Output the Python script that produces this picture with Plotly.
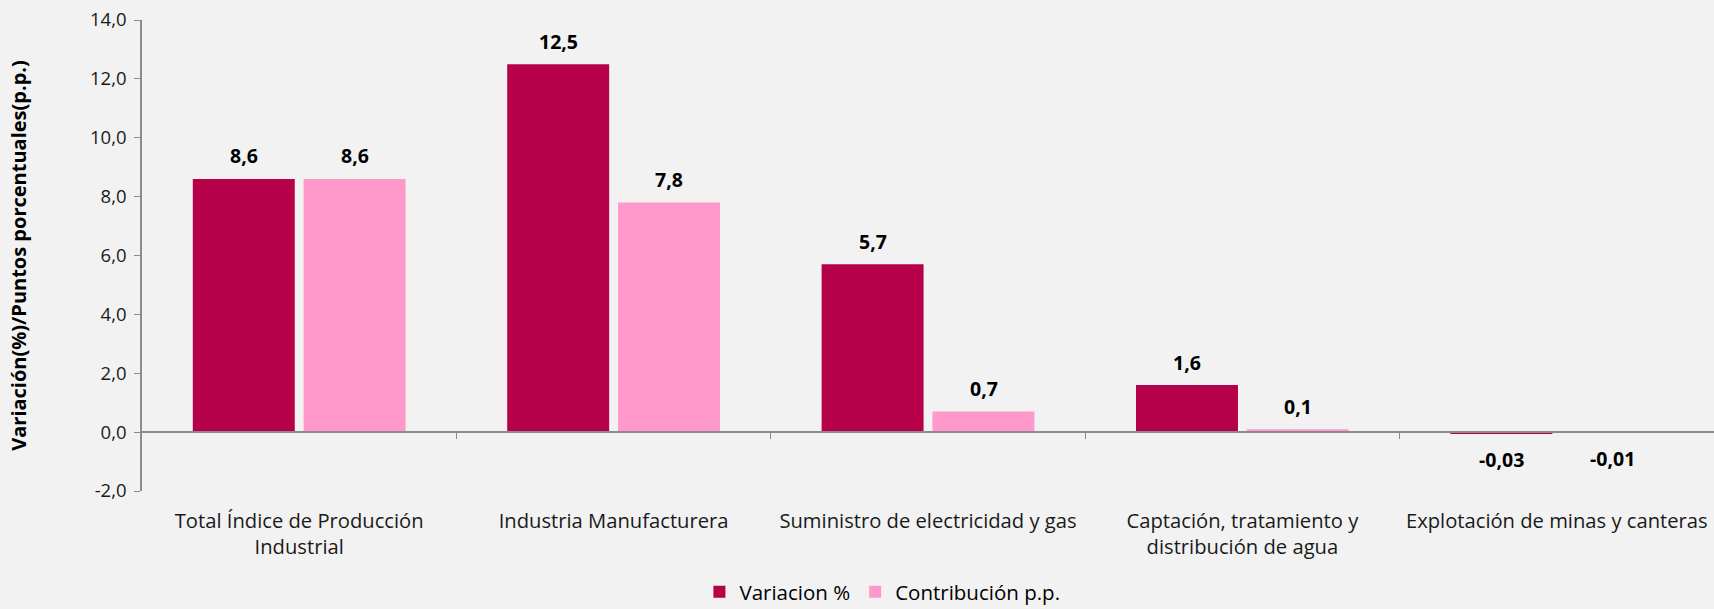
import plotly.graph_objects as go

# data
categories = [
    "Total Índice de Producción<br>Industrial",
    "Industria Manufacturera",
    "Suministro de electricidad y gas",
    "Captación, tratamiento y<br>distribución de agua",
    "Explotación de minas y canteras",
]
variacion = [8.6, 12.5, 5.7, 1.6, -0.03]
contribucion = [8.6, 7.8, 0.7, 0.1, -0.01]
y_ticks = [-2, 0, 2, 4, 6, 8, 10, 12, 14]

series_names = ["Variacion %", "Contribución p.p."]
colors = ["#B6004A", "#FF99CC"]
FONT = "Open Sans"


def fmt(v):
    s = f"{v:.1f}" if abs(v) >= 0.1 else f"{v:.2f}"
    return s.replace(".", ",")


fig = go.Figure()
for name, vals, col in zip(series_names, [variacion, contribucion], colors):
    fig.add_trace(go.Bar(x=categories, y=vals, name=name,
                         marker=dict(color=col, line=dict(width=0))))
#empty trace so the zero-level axis (x2) gets drawn
fig.add_trace(go.Scatter(x=[None], y=[None], xaxis="x2", showlegend=False,
                         hoverinfo="skip"))

#data labels above / below bars
for k, vals in enumerate([variacion, contribucion]):
    shift = -55.5 if k == 0 else 55.5
    for c, v in zip(categories, vals):
        fig.add_annotation(x=c, y=v, text="<b>" + fmt(v) + "</b>", showarrow=False,
                           xshift=shift, yshift=23 if v >= 0 else -26.5,
                           yanchor="middle",
                           font=dict(family=FONT, size=19.5, color="#000000"))

fig.update_layout(
    width=1714, height=609,
    paper_bgcolor="#F2F2F2", plot_bgcolor="#F2F2F2",
    margin=dict(l=142, r=0, t=20, b=118),
    barmode="group", bargap=0.295, bargroupgap=0.08,
    font=dict(family=FONT, size=19, color="#000000"),
    showlegend=True,
    legend=dict(orientation="h", x=0.471, xanchor="center",
                yref="container", y=0.028, yanchor="middle",
                font=dict(family=FONT, size=20.5), traceorder="normal"),
    xaxis=dict(type="category", showline=False, ticks="", showgrid=False, automargin=False,
               ticklabelstandoff=16,
               tickfont=dict(family=FONT, size=20.2, color="#1A1A1A"), range=[-0.5, 4.5]),
    xaxis2=dict(overlaying="x", anchor="free", position=0.125, type="linear",
                range=[-0.5, 4.5], tickvals=[0.5, 1.5, 2.5, 3.5], ticks="outside",
                ticklen=6, tickcolor="#8C8C8C", showticklabels=False, showline=True,
                linecolor="#8C8C8C", linewidth=1.5, showgrid=False, zeroline=False),
    yaxis=dict(range=[-2, 14], tickvals=y_ticks,
               ticktext=[f"{t:.1f}".replace(".", ",") for t in y_ticks],
               showgrid=False, zeroline=False, automargin=False,
               showline=True, linecolor="#8C8C8C", linewidth=1.5, ticks="outside",
               ticklen=6, tickcolor="#8C8C8C", ticklabelstandoff=4,
               tickfont=dict(family=FONT, size=18.5, color="#1A1A1A"),
               title=dict(text="<b>Variación(%)/Puntos porcentuales(p.p.)</b>",
                          font=dict(family=FONT, size=20), standoff=58)),
)

fig.write_html("out.html", config={"displayModeBar": False},
               post_script="document.body.style.margin='0';")
